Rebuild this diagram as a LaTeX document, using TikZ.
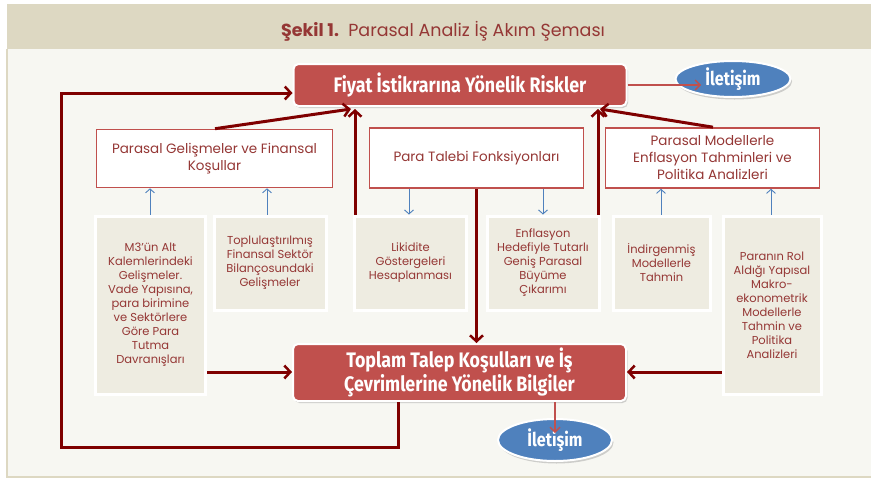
\documentclass[tikz,border=0pt]{standalone}
\usepackage{fontspec}
\setmainfont{Poppins}
\newfontfamily\cbf[FakeStretch=0.85]{Fira Sans}
\usetikzlibrary{arrows.meta,shadows,shapes.geometric}
\definecolor{hdr}{HTML}{DDD8C2}
\definecolor{bodybg}{HTML}{F7F7F2}
\definecolor{redbox}{HTML}{C0504D}
\definecolor{darkred}{HTML}{7F0000}
\definecolor{txtred}{HTML}{953735}
\definecolor{beige}{HTML}{EEECE1}
\definecolor{bluee}{HTML}{4F81BD}
\tikzset{
  redmain/.style={fill=redbox, draw=white, line width=2pt, rounded corners=5pt,
    drop shadow={shadow xshift=1.5pt, shadow yshift=-2pt, opacity=.35},
    text=white, font=\cbf\bfseries\fontsize{21}{24}\selectfont, align=center, inner sep=0pt},
  midbox/.style={fill=white, draw=redbox, line width=1.6pt, text=txtred,
    font=\fontsize{13.5}{17}\selectfont, align=center, inner sep=0pt},
  beigebox/.style={fill=beige, draw=white, line width=3pt, text=txtred,
    drop shadow={shadow xshift=1pt, shadow yshift=-2pt, opacity=.3},
    font=\fontsize{11.5}{14}\selectfont, align=center, inner sep=0pt},
  oval/.style={ellipse, fill=bluee, draw=white, line width=2pt, text=white,
    drop shadow={shadow xshift=1.5pt, shadow yshift=-2.5pt, opacity=.35},
    font=\cbf\bfseries\fontsize{19}{21}\selectfont, inner sep=0pt},
  thick arr/.style={draw=darkred, line width=3pt, -{Straight Barb[length=6pt,width=13pt,line width=2.5pt]}},
  thin red/.style={draw=redbox, line width=1.5pt, -{Straight Barb[length=5pt,width=10pt,line width=1.4pt]}},
  blue arr/.style={draw=bluee, line width=1pt, -{Straight Barb[length=4pt,width=9pt,line width=.9pt]}},
}
\begin{document}
\begin{tikzpicture}[x=1pt, y=-1pt]
\useasboundingbox (0,0) rectangle (871,480);
\fill[white] (0,0) rectangle (871,480);
\fill[hdr] (7,4) rectangle (871,49);
\fill[bodybg] (7,49) rectangle (871,477);
\draw[hdr, line width=2pt] (7,49) -- (7,477) -- (871,477);
\node[text=txtred, font=\fontsize{17.5}{21}\selectfont] (title) at (443,31)
  {\textbf{Şekil 1.}\ \ Parasal Analiz İş Akım Şeması};

% top red box
\node[redmain, minimum width=333pt, minimum height=42pt] (T) at (460,85)
  {Fiyat İstikrarına Yönelik Riskler};
\node[oval, minimum width=115pt, minimum height=36pt] (E1) at (733,79) {İletişim};

% middle boxes
\node[midbox, minimum width=236pt, minimum height=58pt] (A) at (214.5,158.5)
  {Parasal Gelişmeler ve Finansal\\Koşullar};
\node[midbox, minimum width=214pt, minimum height=60pt] (B) at (476.5,158)
  {Para Talebi Fonksiyonları};
\node[midbox, minimum width=214pt, minimum height=60pt] (C) at (712.5,158)
  {Parasal Modellerle\\Enflasyon Tahminleri ve\\Politika Analizleri};

% bottom beige boxes
\node[beigebox, minimum width=110pt, minimum height=178pt] (b1) at (150.5,305)
  {M3'ün Alt\\Kalemlerindeki\\Gelişmeler.\\Vade Yapısına,\\para birimine\\ve Sektörlere\\Göre Para\\Tutma\\Davranışları};
\node[beigebox, minimum width=112pt, minimum height=94pt] (b2) at (270,263)
  {Toplulaştırılmış\\Finansal Sektör\\Bilançosundaki\\Gelişmeler};
\node[beigebox, minimum width=112pt, minimum height=94pt] (b3) at (410.5,263)
  {Likidite\\Göstergeleri\\Hesaplanması};
\node[beigebox, minimum width=112pt, minimum height=94pt] (b4) at (543,263)
  {Enflasyon\\Hedefiyle Tutarlı\\Geniş Parasal\\Büyüme\\Çıkarımı};
\node[beigebox, minimum width=97pt, minimum height=94pt] (b5) at (661.5,263)
  {İndirgenmiş\\Modellerle\\Tahmin};
\node[beigebox, minimum width=98pt, minimum height=178pt] (b6) at (772,305)
  {Paranın Rol\\Aldığı Yapısal\\Makro-\\ekonometrik\\Modellerle\\Tahmin ve\\Politika\\Analizleri};

% bottom red box
\node[redmain, minimum width=333pt, minimum height=57pt] (R) at (459.5,372.5)
  {Toplam Talep Koşulları ve İş\\Çevrimlerine Yönelik Bilgiler};
\node[oval, minimum width=114pt, minimum height=42pt] (E2) at (555,440) {İletişim};

% blue arrows
\draw[blue arr] (b1.north -| 150,0) -- (A.south -| 150,0);
\draw[blue arr] (b2.north -| 267,0) -- (A.south -| 267,0);
\draw[blue arr] (B.south -| 409,0) -- (b3.north -| 409,0);
\draw[blue arr] (B.south -| 543,0) -- (b4.north -| 543,0);
\draw[blue arr] (b5.north -| 661,0) -- (C.south -| 661,0);
\draw[blue arr] (b6.north -| 771,0) -- (C.south -| 771,0);

% thick arrows into top box
\coordinate (tl) at (351,109);
\coordinate (tr) at (600,109);
\draw[thick arr] (A.north -| 215,0) -- (tl);
\draw[thick arr] (b3.north -| 355,0) -- (355,109);
\draw[thick arr] (b4.north -| 598,0) -- (598,109);
\draw[thick arr] (C.north -| 713,0) -- (tr);

% middle to bottom red box
\draw[thick arr] (B.south) -- (B.south |- R.north);
\draw[thick arr] (b1.east |- 0,372) -- (R.west |- 0,372);
\draw[thick arr] (b6.west |- 0,372) -- (R.east |- 0,372);

% loop
\coordinate (l1) at (398,447);
\coordinate (l2) at (61,447);
\coordinate (l3) at (61,93);
\draw[thick arr] (R.south -| 398,0) -- (l1) -- (l2) -- (l3) -- (T.west |- 0,93);

% thin red arrows to communication
\coordinate (e1in) at (701,85);
\coordinate (e2in) at (555,433);
\draw[thin red] (T.east) -- (e1in);
\draw[thin red] (R.south -| e2in) -- (e2in);
\end{tikzpicture}
\end{document}
